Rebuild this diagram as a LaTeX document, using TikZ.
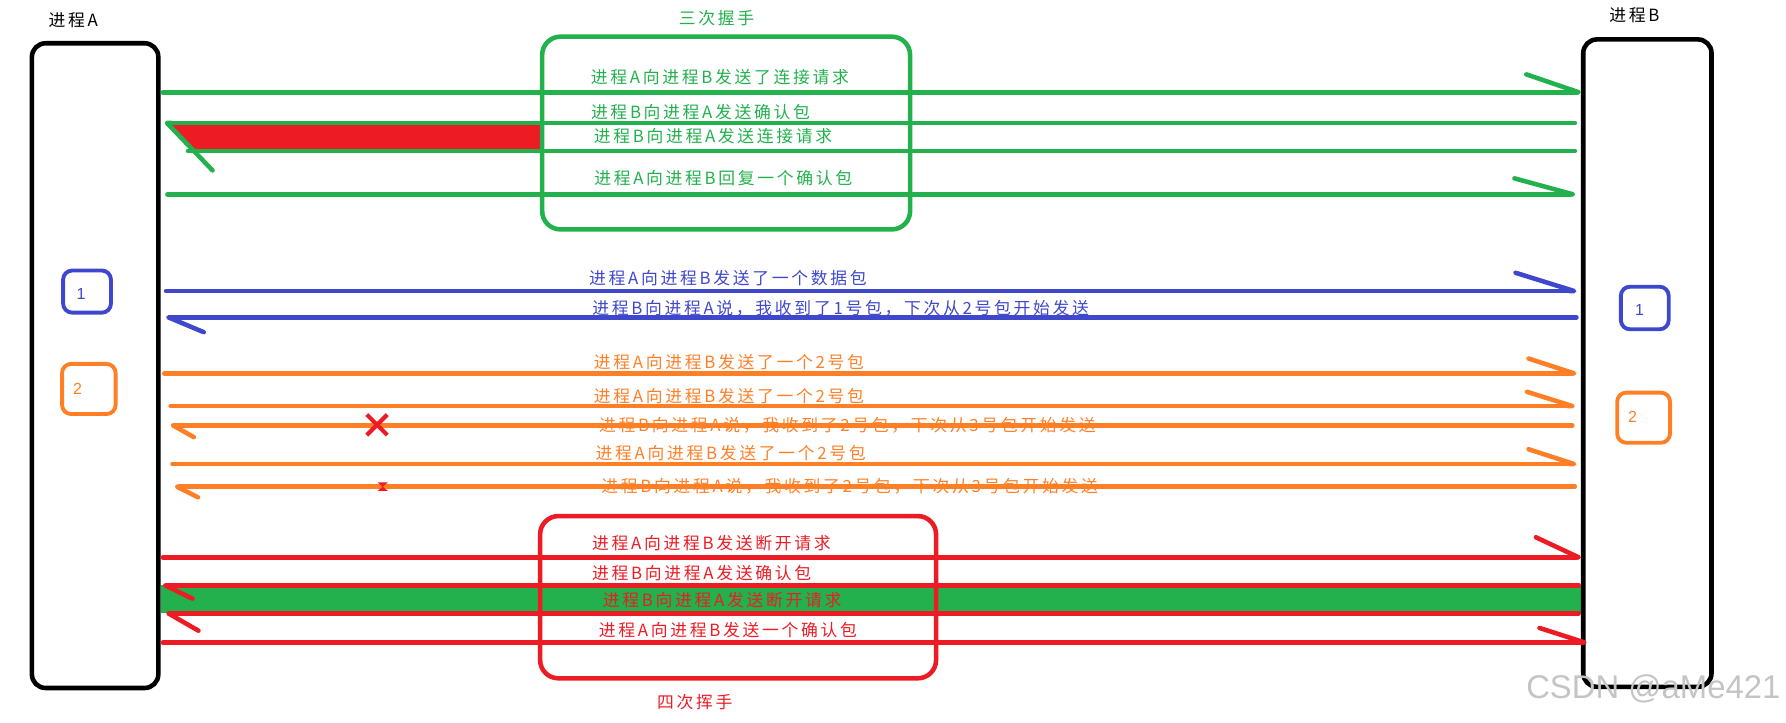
\documentclass[tikz,border=0pt]{standalone}
\usepackage{fontspec}
\newfontfamily\cjk[LetterSpace=16]{Noto Sans CJK SC}
\newfontfamily\plainsans{Liberation Sans}
\usepackage{tikz}
\usetikzlibrary{arrows.meta,backgrounds}
\definecolor{PaintGreen}{HTML}{22B14C}
\definecolor{PaintRed}{HTML}{ED1C24}
\definecolor{PaintBlue}{HTML}{3F48CC}
\definecolor{PaintOrange}{HTML}{FF7F27}
\definecolor{Mark}{HTML}{C4C4C4}
\tikzset{
  proc/.style={draw=black,line width=1mm,rounded corners=3mm,inner sep=0pt},
  stagebox/.style={draw=#1,line width=1mm,rounded corners=4mm,inner sep=0pt},
  seqbox/.style={draw=#1,line width=.85mm,rounded corners=2mm,inner sep=0pt},
  seqnum/.style={inner sep=0pt,font=\plainsans\fontsize{10}{12}\selectfont},
  msg/.style={draw=#1,line width=1mm,line cap=round},
  lbl/.style={inner sep=0pt,font=\cjk\fontsize{10.5}{12}\selectfont}
}

\begin{document}
\begin{tikzpicture}[x=.25mm,y=-.25mm]
  \useasboundingbox (0,0) rectangle (1568,634);
  % processes and stages
  \node[proc,minimum width=27.75mm,minimum height=141.5mm] (procA) at (83.5,321) {};
  \node[proc,minimum width=28.15mm,minimum height=142.1mm] (procB) at (1446.3,318.8) {};
  \node[stagebox=PaintGreen,minimum width=80.75mm,minimum height=42.3mm] (shake) at (637.5,116.8) {};
  \node[stagebox=PaintRed,minimum width=86.9mm,minimum height=35.6mm] (wave) at (648,524.3) {};
  \node[lbl] (nameA) at (64.4,17.6) {进程A};
  \node[lbl] (nameB) at (1434.8,13.2) {进程B};
  \node[lbl,text=PaintGreen] (shakeLbl) at (629,16) {三次握手};
  \node[lbl,text=PaintRed] (waveLbl) at (610,616) {四次挥手};

  % packet numbers
  \node[seqbox=PaintBlue,minimum width=10.5mm,minimum height=9.25mm] (seqA1) at (76.4,256) {};
  \node[seqbox=PaintOrange,minimum width=11.75mm,minimum height=11mm] (seqA2) at (78,341.5) {};
  \node[seqbox=PaintBlue,minimum width=10.5mm,minimum height=9.35mm] (seqB1) at (1444,270.4) {};
  \node[seqbox=PaintOrange,minimum width=11.6mm,minimum height=11mm] (seqB2) at (1443,366.7) {};
  \node[seqnum,text=PaintBlue] (numA1) at (71.2,258) {1};
  \node[seqnum,text=PaintOrange] (numA2) at (68.2,341) {2};
  \node[seqnum,text=PaintBlue] (numB1) at (1439.4,272.2) {1};
  \node[seqnum,text=PaintOrange] (numB2) at (1433.2,366.4) {2};

  % A -> B
  \foreach \y/\c/\sa/\sb/\l/\w in {81/PaintGreen/0.5/0/11.5/7.85,
      170.6/PaintGreen/1.5/-1.25/12.85/7, 255.5/PaintBlue/1.2/-1/12.85/8,
      327.8/PaintOrange/0.8/-1/10/6.5, 356.5/PaintOrange/2.2/-1.35/10/6.25,
      407.4/PaintOrange/2.6/-1/10/6.5, 489.3/PaintRed/0.5/0/9.4/8.8,
      564/PaintRed/0.5/1.25/9.85/6.35}
    \draw[msg=\c,-{Straight Barb[left,round,length=\l mm,width=\w mm]}]
      ([xshift=\sa mm]procA.east |- 0,\y) -- ([xshift=\sb mm]procB.west |- 0,\y);
  % B -> A
  \foreach \y/\c/\sa/\sb/\l/\w in {108/PaintGreen/0.9/-1.35/10/20.8,
      278.6/PaintBlue/1.2/-1/7.75/6.5, 373.4/PaintOrange/2.2/-1.9/4.6/5.2,
      427.3/PaintOrange/3.1/-1.35/4.6/4.65, 513.9/PaintRed/0.5/-0.5/6/5.85,
      538.5/PaintRed/1.2/-0.5/6.6/7.6}
    \draw[msg=\c,-{Straight Barb[left,round,length=\l mm,width=\w mm]}]
      ([xshift=\sb mm]procB.west |- 0,\y) -- ([xshift=\sa mm]procA.east |- 0,\y);
  \draw[msg=PaintGreen] ([xshift=-1.35mm]procB.west |- 0,132.6) -- ([xshift=6mm]procA.east |- 0,132.6);

  \begin{scope}[on background layer]
    \fill[PaintRed] (147.8,108) -- (shake.west |- 0,108) -- (shake.west |- 0,132.6) -- (168,132.6) -- cycle;
    \fill[PaintGreen] (procA.east |- 0,513.9) rectangle (procB.west |- 0,538.5);
  \end{scope}

  % lost packets
  \draw[PaintRed,line width=.9mm] (322,364) -- (340,382) (322,382) -- (340,364);
  \fill[PaintRed] (331.5,423.5) -- (340.5,423.5) -- (336,427.3) -- (340.5,431) -- (331.5,431) -- (336,427.3) -- cycle;

  \foreach \x/\y/\c/\t [count=\i] in {632/68/PaintGreen/进程A向进程B发送了连接请求,
      615/98/PaintGreen/进程B向进程A发送确认包,
      626/119.5/PaintGreen/进程B向进程A发送连接请求,
      635/156.6/PaintGreen/进程A向进程B回复一个确认包,
      639/244/PaintBlue/进程A向进程B发送了一个数据包,
      738/270.6/PaintBlue/进程B向进程A说，我收到了1号包，下次从2号包开始发送,
      640/318/PaintOrange/进程A向进程B发送了一个2号包,
      640/347.7/PaintOrange/进程A向进程B发送了一个2号包,
      744/373/PaintOrange/进程B向进程A说，我收到了2号包，下次从3号包开始发送,
      641.5/398/PaintOrange/进程A向进程B发送了一个2号包,
      746/427/PaintOrange/进程B向进程A说，我收到了2号包，下次从3号包开始发送,
      624.6/477/PaintRed/进程A向进程B发送断开请求,
      616/503/PaintRed/进程B向进程A发送确认包,
      634/527/PaintRed/进程B向进程A发送断开请求,
      639/553/PaintRed/进程A向进程B发送一个确认包}
    \node[lbl,text=\c] (msg\i) at (\x,\y) {\t};

  \node[font=\plainsans\fontsize{20.5}{24}\selectfont,text=Mark,inner sep=0pt] (mark) at (1451.5,605) {CSDN @aMe421};
\end{tikzpicture}
\end{document}
